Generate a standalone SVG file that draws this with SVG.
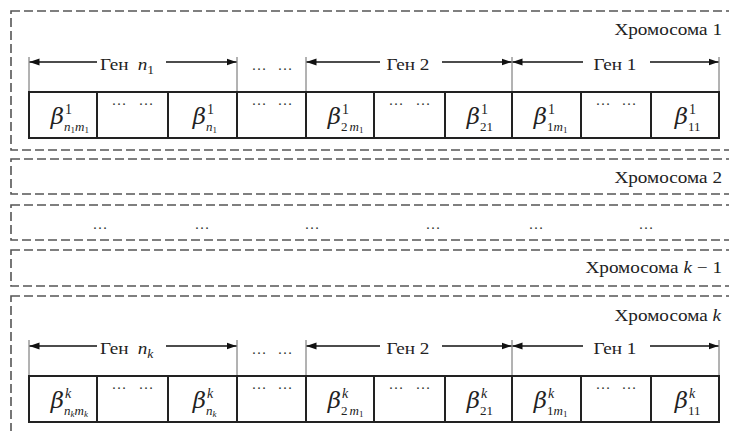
<svg xmlns="http://www.w3.org/2000/svg" width="729" height="431" viewBox="0 0 729 431">
<style>
.dash{fill:none;stroke:#555;stroke-width:1.6;stroke-dasharray:9 4}
.cell{fill:#fff;stroke:#222;stroke-width:2}
.tick{stroke:#666;stroke-width:1}
.arr{stroke:#111;stroke-width:1.5;fill:none;marker-end:url(#ah)}
.t{font-family:"Liberation Serif","Times New Roman",serif;fill:#222}
.lbl{font-size:17px}
.b{font-family:"DejaVu Serif",serif;font-size:23px;font-style:italic;text-anchor:end;fill:#222}
.sup{font-size:14px}
.sub{font-size:13px}
.i{font-style:italic}
.ss{font-size:9px}
.dots{font-size:15px;text-anchor:middle;fill:#333}
</style>
<defs>
<marker id="ah" markerUnits="userSpaceOnUse" markerWidth="10" markerHeight="8" refX="10" refY="4" orient="auto">
<path d="M0,0.5 L10,4 L0,7.5 z" fill="#111"/>
</marker>
</defs>
<rect width="729" height="431" fill="#fff"/>

<g id="chromosome-1">
<rect class="dash" x="11" y="11" width="740" height="139"/>
<text class="t lbl" transform="translate(722,35) scale(1.13,1)" text-anchor="end">Хромосома 1</text>
</g>
<g id="chromosome-2">
<rect class="dash" x="11" y="159" width="740" height="35"/>
<text class="t lbl" transform="translate(722,183) scale(1.13,1)" text-anchor="end">Хромосома 2</text>
</g>
<g id="chromosome-dots">
<rect class="dash" x="11" y="205" width="740" height="35"/>
<g class="t dots">
<text x="100" y="229">…</text><text x="202" y="229">…</text><text x="312" y="229">…</text>
<text x="433" y="229">…</text><text x="536" y="229">…</text><text x="646" y="229">…</text>
</g>
</g>
<g id="chromosome-k-1">
<rect class="dash" x="11" y="250" width="740" height="36"/>
<text class="t lbl" transform="translate(722,273) scale(1.13,1)" text-anchor="end">Хромосома <tspan class="i">k</tspan> − 1</text>
</g>
<g id="chromosome-k">
<rect class="dash" x="11" y="296" width="740" height="160"/>
<text class="t lbl" transform="translate(721,321) scale(1.13,1)" text-anchor="end">Хромосома <tspan class="i">k</tspan></text>
</g>

<!-- Row 1 -->
<g id="genes-1">
<g class="tick">
<line x1="29" y1="57" x2="29" y2="92"/><line x1="237" y1="57" x2="237" y2="92"/>
<line x1="306" y1="57" x2="306" y2="92"/><line x1="512" y1="57" x2="512" y2="92"/>
<line x1="719" y1="57" x2="719" y2="92"/>
</g>
<text class="t lbl" transform="translate(100,70) scale(1.13,1)">Ген <tspan class="i" dx="4">n</tspan><tspan font-size="12" dy="4">1</tspan></text>
<text class="t lbl" transform="translate(408,70) scale(1.13,1)" text-anchor="middle">Ген 2</text>
<text class="t lbl" transform="translate(615,70) scale(1.13,1)" text-anchor="middle">Ген 1</text>
<text class="t dots" x="259" y="70">…</text><text class="t dots" x="285" y="70">…</text>
</g>
<g id="cells-1">
<g id="c1-1"><rect class="cell" x="29" y="92" width="68" height="46"/>
<text class="b" x="64" y="124">β</text><text class="t sup" x="65" y="114">1</text>
<text class="t sub" x="64" y="131"><tspan class="i">n</tspan><tspan class="ss" dy="2">1</tspan><tspan class="i" dy="-2">m</tspan><tspan class="ss" dy="2">1</tspan></text></g>
<g id="c2-1"><rect class="cell" x="97" y="92" width="71" height="46"/>
<text class="t dots" x="119" y="105" font-size="14">…</text><text class="t dots" x="146" y="105" font-size="14">…</text></g>
<g id="c3-1"><rect class="cell" x="168" y="92" width="69" height="46"/>
<text class="b" x="206" y="124">β</text><text class="t sup" x="207" y="114">1</text>
<text class="t sub" x="206" y="131"><tspan class="i">n</tspan><tspan class="ss" dy="2">1</tspan></text></g>
<g id="c4-1"><rect class="cell" x="237" y="92" width="69" height="46"/>
<text class="t dots" x="259" y="105" font-size="14">…</text><text class="t dots" x="285" y="105" font-size="14">…</text></g>
<g id="c5-1"><rect class="cell" x="306" y="92" width="68" height="46"/>
<text class="b" x="341" y="124">β</text><text class="t sup" x="342" y="114">1</text>
<text class="t sub" x="341" y="131">2<tspan class="i" dx="2">m</tspan><tspan class="ss" dy="2">1</tspan></text></g>
<g id="c6-1"><rect class="cell" x="374" y="92" width="71" height="46"/>
<text class="t dots" x="396" y="105" font-size="14">…</text><text class="t dots" x="423" y="105" font-size="14">…</text></g>
<g id="c7-1"><rect class="cell" x="445" y="92" width="67" height="46"/>
<text class="b" x="480" y="124">β</text><text class="t sup" x="481" y="114">1</text>
<text class="t sub" x="480" y="131">21</text></g>
<g id="c8-1"><rect class="cell" x="512" y="92" width="69" height="46"/>
<text class="b" x="547" y="124">β</text><text class="t sup" x="548" y="114">1</text>
<text class="t sub" x="547" y="131">1<tspan class="i">m</tspan><tspan class="ss" dy="2">1</tspan></text></g>
<g id="c9-1"><rect class="cell" x="581" y="92" width="70" height="46"/>
<text class="t dots" x="603" y="105" font-size="14">…</text><text class="t dots" x="629" y="105" font-size="14">…</text></g>
<g id="c10-1"><rect class="cell" x="651" y="92" width="68" height="46"/>
<text class="b" x="688" y="124">β</text><text class="t sup" x="689" y="114">1</text>
<text class="t sub" x="688" y="131">11</text></g>
</g>

<!-- Row k -->
<g id="genes-k">
<g class="tick">
<line x1="29" y1="340" x2="29" y2="376"/><line x1="237" y1="340" x2="237" y2="376"/>
<line x1="306" y1="340" x2="306" y2="376"/><line x1="512" y1="340" x2="512" y2="376"/>
<line x1="719" y1="340" x2="719" y2="376"/>
</g>
<text class="t lbl" transform="translate(100,354) scale(1.13,1)">Ген <tspan class="i" dx="4">n</tspan><tspan class="i" font-size="12" dy="4">k</tspan></text>
<text class="t lbl" transform="translate(408,354) scale(1.13,1)" text-anchor="middle">Ген 2</text>
<text class="t lbl" transform="translate(615,354) scale(1.13,1)" text-anchor="middle">Ген 1</text>
<text class="t dots" x="259" y="354">…</text><text class="t dots" x="285" y="354">…</text>
</g>
<g id="cells-k">
<g id="c1-k"><rect class="cell" x="29" y="376" width="68" height="46"/>
<text class="b" x="64" y="408">β</text><text class="t sup i" x="65" y="398">k</text>
<text class="t sub" x="64" y="415"><tspan class="i">n</tspan><tspan class="ss i" dy="2">k</tspan><tspan class="i" dy="-2">m</tspan><tspan class="ss i" dy="2">k</tspan></text></g>
<g id="c2-k"><rect class="cell" x="97" y="376" width="71" height="46"/>
<text class="t dots" x="119" y="389" font-size="14">…</text><text class="t dots" x="146" y="389" font-size="14">…</text></g>
<g id="c3-k"><rect class="cell" x="168" y="376" width="69" height="46"/>
<text class="b" x="206" y="408">β</text><text class="t sup i" x="207" y="398">k</text>
<text class="t sub" x="206" y="415"><tspan class="i">n</tspan><tspan class="ss i" dy="2">k</tspan></text></g>
<g id="c4-k"><rect class="cell" x="237" y="376" width="69" height="46"/>
<text class="t dots" x="259" y="389" font-size="14">…</text><text class="t dots" x="285" y="389" font-size="14">…</text></g>
<g id="c5-k"><rect class="cell" x="306" y="376" width="68" height="46"/>
<text class="b" x="341" y="408">β</text><text class="t sup i" x="342" y="398">k</text>
<text class="t sub" x="341" y="415">2<tspan class="i" dx="2">m</tspan><tspan class="ss" dy="2">1</tspan></text></g>
<g id="c6-k"><rect class="cell" x="374" y="376" width="71" height="46"/>
<text class="t dots" x="396" y="389" font-size="14">…</text><text class="t dots" x="423" y="389" font-size="14">…</text></g>
<g id="c7-k"><rect class="cell" x="445" y="376" width="67" height="46"/>
<text class="b" x="480" y="408">β</text><text class="t sup i" x="481" y="398">k</text>
<text class="t sub" x="480" y="415">21</text></g>
<g id="c8-k"><rect class="cell" x="512" y="376" width="69" height="46"/>
<text class="b" x="547" y="408">β</text><text class="t sup i" x="548" y="398">k</text>
<text class="t sub" x="547" y="415">1<tspan class="i">m</tspan><tspan class="ss" dy="2">1</tspan></text></g>
<g id="c9-k"><rect class="cell" x="581" y="376" width="70" height="46"/>
<text class="t dots" x="603" y="389" font-size="14">…</text><text class="t dots" x="629" y="389" font-size="14">…</text></g>
<g id="c10-k"><rect class="cell" x="651" y="376" width="68" height="46"/>
<text class="b" x="688" y="408">β</text><text class="t sup i" x="689" y="398">k</text>
<text class="t sub" x="688" y="415">11</text></g>
</g>

<g id="connectors">
<line class="arr" x1="97" y1="62" x2="29.5" y2="62"/>
<line class="arr" x1="166" y1="62" x2="236.5" y2="62"/>
<line class="arr" x1="380" y1="62" x2="306.5" y2="62"/>
<line class="arr" x1="442" y1="62" x2="511.5" y2="62"/>
<line class="arr" x1="583" y1="62" x2="512.5" y2="62"/>
<line class="arr" x1="650" y1="62" x2="718.5" y2="62"/>
<line class="arr" x1="97" y1="346" x2="29.5" y2="346"/>
<line class="arr" x1="166" y1="346" x2="236.5" y2="346"/>
<line class="arr" x1="380" y1="346" x2="306.5" y2="346"/>
<line class="arr" x1="442" y1="346" x2="511.5" y2="346"/>
<line class="arr" x1="583" y1="346" x2="512.5" y2="346"/>
<line class="arr" x1="650" y1="346" x2="718.5" y2="346"/>
</g>
</svg>
